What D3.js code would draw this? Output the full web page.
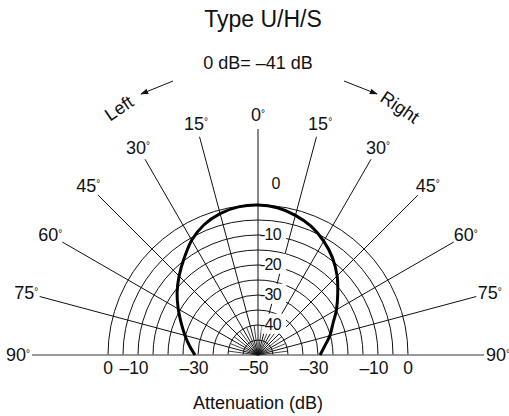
<!DOCTYPE html>
<html>
<head>
<meta charset="utf-8">
<script src="https://cdn.jsdelivr.net/npm/d3@7/dist/d3.min.js"></script>
<style>
  body { margin: 0; background: #fff; }
  svg { display: block; font-family: 'Liberation Sans', Arial, sans-serif; fill: #111; }
</style>
</head>
<body>
<div id="chart"></div>
<script>
// polar response: angle in degrees (negative = left), level in dB
const angles = [-90, -82.5, -75, -67.5, -60, -52.5, -45, -37.5, -30, -22.5, -15, -7.5, 0,
  7.5, 15, 22.5, 30, 37.5, 45, 52.5, 60, 67.5, 75, 82.5, 90];
const levels = [-29, -27, -24.8, -22.3, -19.3, -16, -12.8, -9.5, -5.8, -3, -1.2, -0.2, 0,
  -0.5, -1.8, -3.6, -6.2, -9.2, -12.7, -16.5, -19.8, -23, -25.2, -27.6, -29.3];

// grid
const ringLevels = [-45, -40, -35, -30, -25, -20, -15, -10, -5, 0];
const spokeAngles = [-90, -75, -60, -45, -30, -15, 0, 15, 30, 45, 60, 75, 90];
const minorSpokeAngles = [-82.5, -67.5, -52.5, -37.5, -22.5, -7.5, 7.5, 22.5, 37.5, 52.5, 67.5, 82.5];
const axisLevels = [-10, -20, -30, -40];
const bottomLeft = [0, -10, -30, -50];
const bottomRight = [-30, -10, 0];

const width = 509, height = 416;
const cx = 258, cy = 355;
const spokeLen = 226, labelR = 240;

const r = d3.scaleLinear().domain([-50, 0]).range([0, 150]);
const a = d3.scaleLinear().domain([-90, 90]).range([-Math.PI / 2, Math.PI / 2]);
const px = (deg, rad) => rad * Math.sin(a(deg));
const py = (deg, rad) => -rad * Math.cos(a(deg));

const svg = d3.select('#chart').append('svg')
  .attr('width', width)
  .attr('height', height);

svg.append('defs').append('marker')
  .attr('id', 'head')
  .attr('viewBox', '0 0 10 10')
  .attr('refX', 9).attr('refY', 5)
  .attr('markerWidth', 8).attr('markerHeight', 8)
  .attr('markerUnits', 'userSpaceOnUse')
  .attr('orient', 'auto')
  .append('path')
  .attr('d', 'M0,1.5L10,5L0,8.5Z')
  .attr('fill', '#111');

svg.append('text')
  .attr('x', 263).attr('y', 27)
  .attr('text-anchor', 'middle')
  .attr('font-size', 23)
  .text('Type U/H/S');

svg.append('text')
  .attr('x', 258).attr('y', 69)
  .attr('text-anchor', 'middle')
  .attr('font-size', 18)
  .text('0 dB= \u201341 dB');

const plot = svg.append('g')
  .attr('transform', `translate(${cx},${cy})`);

// rings
plot.append('g').selectAll('path')
  .data(ringLevels)
  .join('path')
  .attr('d', d => {
    const p = d3.path();
    p.moveTo(-r(d), 0);
    p.arc(0, 0, r(d), Math.PI, 2 * Math.PI);
    return p.toString();
  })
  .attr('fill', 'none')
  .attr('stroke', '#111')
  .attr('stroke-width', 1);

// spokes
plot.append('g').selectAll('line')
  .data(spokeAngles)
  .join('line')
  .attr('x1', 0).attr('y1', 0)
  .attr('x2', d => px(d, spokeLen))
  .attr('y2', d => py(d, spokeLen))
  .attr('stroke', d => Math.abs(d) === 90 ? '#777' : '#111')
  .attr('stroke-width', d => Math.abs(d) === 90 ? 1.3 : 1);

plot.append('g').selectAll('line')
  .data(minorSpokeAngles)
  .join('line')
  .attr('x1', 0).attr('y1', 0)
  .attr('x2', d => px(d, r(-40)))
  .attr('y2', d => py(d, r(-40)))
  .attr('stroke', '#111')
  .attr('stroke-width', 0.8);

// angle labels
const degLabels = plot.append('g').selectAll('text')
  .data(spokeAngles)
  .join('text')
  .attr('x', d => px(d, labelR))
  .attr('y', d => py(d, labelR))
  .attr('dy', '0.36em')
  .attr('text-anchor', 'middle')
  .attr('font-size', 18);
degLabels.append('tspan').text(d => Math.abs(d));
degLabels.append('tspan')
  .attr('dy', '-0.45em')
  .attr('font-size', 10)
  .text('\u00b0');

// level labels on the 0 degree axis, boxed in white
const axisG = plot.append('g');
const axisText = axisG.selectAll('text')
  .data(axisLevels)
  .join('text')
  .attr('x', 2)
  .attr('y', d => -r(d))
  .attr('dy', '0.3em')
  .attr('font-size', 16)
  .attr('letter-spacing', -0.8)
  .text(d => d);
axisText.each(function () {
  const b = this.getBBox();
  axisG.insert('rect', 'text')
    .attr('x', b.x + 1.5).attr('y', b.y - 2)
    .attr('width', b.width + 3).attr('height', b.height + 3)
    .attr('fill', '#fff');
});

plot.append('text')
  .attr('x', 18)
  .attr('y', -r(0) - 16)
  .attr('text-anchor', 'middle')
  .attr('font-size', 16)
  .text(0);

// bottom scale
const fmt = d => d < 0 ? '\u2013' + Math.abs(d) : String(d);
plot.append('g').selectAll('text')
  .data(bottomLeft.map(d => [-1, d]).concat(bottomRight.map(d => [1, d])))
  .join('text')
  .attr('x', d => d[0] * r(d[1]) - (d[1] < 0 ? 4 : 0))
  .attr('y', 19)
  .attr('text-anchor', 'middle')
  .attr('font-size', 17.5)
  .text(d => fmt(d[1]));

// response curve
const line = d3.lineRadial()
  .angle((d, i) => a(angles[i]))
  .radius(d => r(d))
  .curve(d3.curveCatmullRom);

plot.append('path')
  .datum(levels)
  .attr('d', line)
  .attr('fill', 'none')
  .attr('stroke', '#000')
  .attr('stroke-width', 3);

// Left / Right annotation
svg.append('line')
  .attr('x1', 173).attr('y1', 81).attr('x2', 141).attr('y2', 94)
  .attr('stroke', '#111').attr('stroke-width', 1)
  .attr('marker-end', 'url(#head)');
svg.append('line')
  .attr('x1', 344).attr('y1', 81).attr('x2', 377).attr('y2', 94)
  .attr('stroke', '#111').attr('stroke-width', 1)
  .attr('marker-end', 'url(#head)');
svg.append('text')
  .attr('transform', 'translate(119,108) rotate(-34)')
  .attr('text-anchor', 'middle')
  .attr('dy', '0.35em')
  .attr('font-size', 18)
  .text('Left');
svg.append('text')
  .attr('transform', 'translate(400,107) rotate(34)')
  .attr('text-anchor', 'middle')
  .attr('dy', '0.35em')
  .attr('font-size', 18)
  .text('Right');

svg.append('text')
  .attr('x', 258).attr('y', 409)
  .attr('text-anchor', 'middle')
  .attr('font-size', 18)
  .text('Attenuation (dB)');
</script>
</body>
</html>
